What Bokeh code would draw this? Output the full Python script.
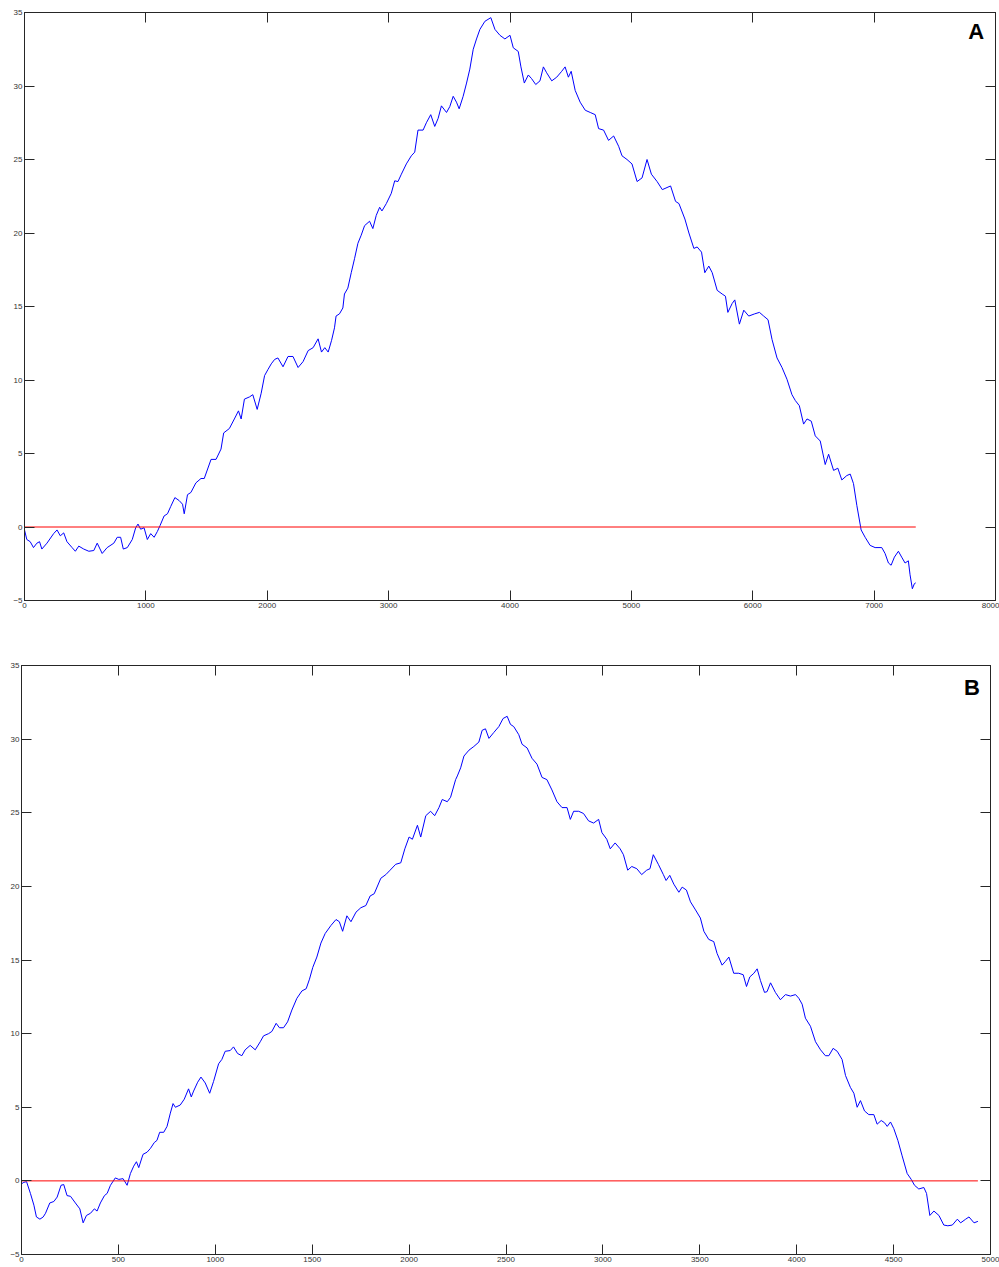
from bokeh.plotting import figure
from bokeh.layouts import column, row
from bokeh.models import Range1d, LinearAxis, FixedTicker, CustomJSTickFormatter, Label
from bokeh.embed import file_html
from bokeh.resources import INLINE

# ---------------- Panel A data ----------------
a_x = [0, 19, 47, 74, 102, 124, 143, 185, 240, 268, 295, 323, 350, 392, 419, 447, 488, 530,
       571, 599, 640, 681, 736, 764, 792, 814, 847, 888, 916, 935, 957, 985, 1012, 1040,
       1068, 1095, 1117, 1150, 1178, 1205, 1239, 1274, 1302, 1316, 1343, 1371, 1412, 1454,
       1481, 1537, 1578, 1619, 1641, 1688, 1729, 1763, 1785, 1812, 1854, 1881, 1917, 1950,
       1978, 2005, 2033, 2061, 2088, 2130, 2171, 2212, 2254, 2295, 2337, 2378, 2419, 2447,
       2474, 2502, 2530, 2554, 2567, 2595, 2623, 2636, 2664, 2692, 2719, 2747, 2774, 2802,
       2843, 2870, 2898, 2926, 2945, 2981, 3022, 3050, 3077, 3105, 3146, 3187, 3215, 3242,
       3284, 3311, 3347, 3380, 3408, 3435, 3477, 3504, 3532, 3559, 3581, 3614, 3642, 3669,
       3697, 3724, 3752, 3793, 3842, 3876, 3917, 3958, 4000, 4027, 4068, 4090, 4118, 4151,
       4178, 4212, 4247, 4275, 4302, 4344, 4385, 4426, 4454, 4481, 4504, 4537, 4578, 4620,
       4661, 4702, 4730, 4771, 4812, 4854, 4895, 4923, 4964, 5005, 5047, 5088, 5129, 5165,
       5212, 5255, 5323, 5364, 5392, 5441, 5474, 5515, 5542, 5578, 5605, 5638, 5666, 5707,
       5748, 5775, 5795, 5830, 5852, 5890, 5926, 5967, 6016, 6055, 6090, 6126, 6159, 6200,
       6241, 6282, 6323, 6351, 6384, 6419, 6447, 6482, 6515, 6556, 6597, 6625, 6666, 6701,
       6734, 6775, 6803, 6830, 6858, 6893, 6926, 6967, 7008, 7063, 7090, 7118, 7140, 7167,
       7200, 7227, 7255, 7282, 7296, 7315, 7332, 7343]
a_y = [-0.2, -0.85, -1.0, -1.4, -1.1, -1.0, -1.5, -1.1, -0.45, -0.2, -0.6, -0.4, -1.0, -1.4,
       -1.65, -1.3, -1.5, -1.65, -1.6, -1.1, -1.8, -1.4, -1.1, -0.7, -0.7, -1.5, -1.4, -0.85,
       -0.05, 0.2, -0.15, -0.05, -0.85, -0.45, -0.7, -0.3, 0.1, 0.75, 0.9, 1.4, 2.0, 1.8,
       1.55, 0.9, 2.2, 2.35, 3.0, 3.3, 3.3, 4.6, 4.6, 5.3, 6.4, 6.7, 7.35, 7.9, 7.35, 8.7,
       8.85, 9.0, 8.0, 9.1, 10.3, 10.7, 11.1, 11.4, 11.5, 10.9, 11.6, 11.6, 10.85, 11.25,
       12.0, 12.2, 12.8, 11.9, 12.2, 11.9, 12.7, 13.55, 14.35, 14.5, 14.9, 15.85, 16.25,
       17.3, 18.25, 19.3, 19.85, 20.5, 20.8, 20.3, 21.2, 21.75, 21.5, 22.0, 22.7, 23.55,
       23.5, 24.0, 24.7, 25.25, 25.5, 27.0, 27.0, 27.5, 28.05, 27.25, 27.8, 28.65, 28.2,
       28.6, 29.3, 28.9, 28.45, 29.3, 30.2, 31.15, 32.5, 33.2, 33.85, 34.4, 34.65, 33.85,
       33.45, 33.2, 33.45, 32.6, 32.35, 31.3, 30.2, 30.75, 30.5, 30.1, 30.35, 31.3, 30.9,
       30.35, 30.6, 31.0, 31.3, 30.6, 31.0, 29.7, 28.9, 28.35, 28.2, 28.05, 27.1, 27.0,
       26.3, 26.6, 25.9, 25.25, 25.0, 24.7, 23.5, 23.75, 25.0, 24.0, 23.5, 22.95, 23.2,
       22.15, 22.0, 20.95, 20.0, 18.95, 19.05, 18.7, 17.3, 17.75, 17.3, 16.1, 15.85, 15.7,
       14.6, 15.2, 15.45, 13.8, 14.75, 14.35, 14.5, 14.6, 14.35, 14.1, 12.75, 11.5, 10.85,
       10.05, 9.0, 8.6, 8.25, 7.0, 7.35, 7.2, 6.2, 5.85, 4.25, 4.95, 3.85, 4.0, 3.2, 3.5,
       3.6, 2.95, 1.45, -0.2, -0.7, -1.25, -1.4, -1.4, -1.8, -2.45, -2.6, -2.05, -1.65,
       -2.05, -2.45, -2.3, -3.25, -4.2, -3.85, -3.8]

# ---------------- Panel B data ----------------
b_x = [0, 12, 26, 46, 64, 77, 95, 112, 124, 146, 167, 184, 204, 218, 235, 253, 278, 301,
       318, 335, 356, 376, 390, 407, 428, 442, 459, 484, 502, 524, 545, 562, 579, 593, 605,
       627, 648, 665, 685, 699, 713, 734, 751, 768, 782, 794, 819, 840, 862, 876, 888, 909,
       926, 948, 971, 991, 1017, 1034, 1051, 1077, 1094, 1115, 1137, 1154, 1180, 1206, 1232,
       1249, 1275, 1292, 1314, 1331, 1352, 1373, 1395, 1421, 1447, 1469, 1486, 1503, 1524,
       1545, 1567, 1597, 1623, 1640, 1657, 1679, 1700, 1726, 1751, 1777, 1799, 1820, 1854,
       1880, 1902, 1931, 1957, 1978, 2000, 2017, 2043, 2060, 2086, 2111, 2132, 2154, 2171,
       2197, 2214, 2240, 2249, 2266, 2283, 2309, 2334, 2360, 2377, 2394, 2412, 2437, 2463,
       2485, 2506, 2523, 2540, 2566, 2583, 2609, 2634, 2660, 2686, 2711, 2737, 2763, 2789,
       2815, 2832, 2849, 2875, 2900, 2926, 2952, 2978, 2995, 3020, 3038, 3063, 3089, 3106,
       3128, 3149, 3175, 3200, 3226, 3243, 3260, 3286, 3312, 3326, 3345, 3366, 3392, 3409,
       3431, 3452, 3478, 3503, 3521, 3546, 3572, 3589, 3615, 3632, 3650, 3675, 3701, 3724,
       3741, 3758, 3779, 3796, 3813, 3834, 3847, 3865, 3890, 3916, 3942, 3968, 3994, 4011,
       4028, 4045, 4071, 4097, 4123, 4148, 4166, 4188, 4209, 4234, 4252, 4277, 4295, 4312,
       4329, 4350, 4372, 4398, 4415, 4436, 4453, 4467, 4484, 4501, 4522, 4544, 4570, 4591,
       4608, 4630, 4656, 4670, 4687, 4708, 4734, 4759, 4780, 4803, 4829, 4846, 4872, 4889,
       4915, 4935]
b_y = [-0.2, -0.1, -0.05, -0.85, -1.65, -2.45, -2.6, -2.45, -2.2, -1.5, -1.4, -1.1, -0.3,
       -0.25, -1.0, -1.05, -1.5, -1.9, -2.85, -2.35, -2.2, -1.9, -2.05, -1.5, -1.0, -0.85,
       -0.3, 0.2, 0.1, 0.15, -0.3, 0.5, 1.0, 1.3, 0.9, 1.8, 1.95, 2.2, 2.6, 2.75, 3.3, 3.3,
       3.7, 4.6, 5.25, 5.0, 5.15, 5.55, 6.25, 5.7, 6.1, 6.7, 7.05, 6.65, 5.95, 6.75, 7.95,
       8.25, 8.8, 8.85, 9.1, 8.65, 8.5, 8.9, 9.2, 8.9, 9.45, 9.85, 10.0, 10.15, 10.7, 10.4,
       10.4, 10.8, 11.6, 12.4, 12.9, 13.05, 13.7, 14.5, 15.2, 16.15, 16.8, 17.35, 17.75,
       17.6, 16.95, 18.0, 17.6, 18.25, 18.55, 18.7, 19.35, 19.5, 20.55, 20.8, 21.1, 21.5,
       21.6, 22.55, 23.35, 23.2, 24.15, 23.35, 24.8, 25.1, 24.8, 25.35, 25.9, 25.75, 26.05,
       27.25, 27.5, 28.05, 28.85, 29.25, 29.5, 29.8, 30.6, 30.7, 30.05, 30.45, 30.85, 31.4,
       31.55, 31.0, 30.85, 30.3, 29.65, 29.4, 28.7, 28.3, 27.4, 27.25, 26.55, 25.75, 25.35,
       25.35, 24.55, 25.1, 25.1, 24.95, 24.45, 24.3, 24.55, 23.65, 23.2, 22.55, 22.95, 22.55,
       22.15, 21.1, 21.35, 21.2, 20.8, 21.1, 21.2, 22.15, 21.5, 20.8, 20.4, 20.75, 20.15,
       19.6, 19.95, 19.75, 18.95, 18.4, 17.85, 16.95, 16.4, 16.25, 15.45, 14.65, 14.9, 15.2,
       14.1, 14.1, 14.0, 13.2, 13.85, 14.1, 14.4, 13.6, 12.8, 12.85, 13.45, 12.8, 12.3,
       12.65, 12.55, 12.65, 12.4, 12.0, 11.05, 10.5, 9.45, 8.9, 8.5, 8.5, 9.0, 8.8, 8.25,
       7.15, 6.35, 5.95, 5.0, 5.45, 4.75, 4.5, 4.5, 3.85, 4.1, 3.95, 3.7, 4.0, 3.55, 2.75,
       1.7, 0.5, 0.1, -0.3, -0.55, -0.45, -0.85, -2.35, -2.05, -2.35, -3.0, -3.05, -3.0,
       -2.6, -2.85, -2.6, -2.45, -2.85, -2.75]

a_xticks = [0, 1000, 2000, 3000, 4000, 5000, 6000, 7000, 8000]
b_xticks = [0, 500, 1000, 1500, 2000, 2500, 3000, 3500, 4000, 4500, 5000]
y_ticks = [-5, 0, 5, 10, 15, 20, 25, 30, 35]
a_xmax = 8000
b_xmax = 5000
y_min, y_max = -5, 35

FONT = "Liberation Sans"
AX_COLOR = "#262626"


def style_axis(ax, ticks, show_labels):
    ax.ticker = FixedTicker(ticks=ticks)
    ax.major_tick_in = 10
    ax.major_tick_out = 0
    ax.minor_tick_line_color = None
    ax.axis_line_color = AX_COLOR
    ax.major_tick_line_color = AX_COLOR
    ax.major_label_text_font = FONT
    ax.major_label_text_font_size = "8px"
    ax.major_label_text_color = "#333333"
    ax.major_label_standoff = 2
    if not show_labels:
        ax.formatter = CustomJSTickFormatter(code="return '';")
        ax.major_label_text_font_size = "1px"
        ax.major_label_standoff = 0


def make_panel(xs, ys, xmax, xticks, letter, lx, ly, fw, fh, ml, mt, mr, mb):
    p = figure(frame_width=fw, frame_height=fh,
               x_range=Range1d(0, xmax), y_range=Range1d(y_min, y_max),
               output_backend="svg", toolbar_location=None,
               min_border_left=ml, min_border_top=mt,
               min_border_right=mr, min_border_bottom=mb)
    p.grid.visible = False
    p.outline_line_color = AX_COLOR
    p.background_fill_color = "white"
    p.border_fill_color = "white"
    style_axis(p.xaxis[0], xticks, True)
    style_axis(p.yaxis[0], y_ticks, True)
    top = LinearAxis()
    right = LinearAxis()
    style_axis(top, xticks, False)
    style_axis(right, y_ticks, False)
    p.add_layout(top, "above")
    p.add_layout(right, "right")

    p.line(xs, ys, line_color="#0000ff", line_width=1)
    p.line([xs[0], xs[-1]], [0, 0], line_color="#ff0000", line_width=1)
    p.add_layout(Label(x=lx, y=ly, text=letter, text_font=FONT,
                       text_font_style="bold", text_font_size="22px",
                       text_color="black", text_align="center",
                       text_baseline="middle"))
    return p


pa = make_panel(a_x, a_y, a_xmax, a_xticks, "A", 7840, 33.7,
                971, 588, 24, 12, 4, 15)
pb = make_panel(b_x, b_y, b_xmax, b_xticks, "B", 4904, 33.5,
                969, 589, 21, 50, 9, 12)

layout = column(row(pa), row(pb), spacing=0)
open("out.html", "w").write(file_html(layout, INLINE))
